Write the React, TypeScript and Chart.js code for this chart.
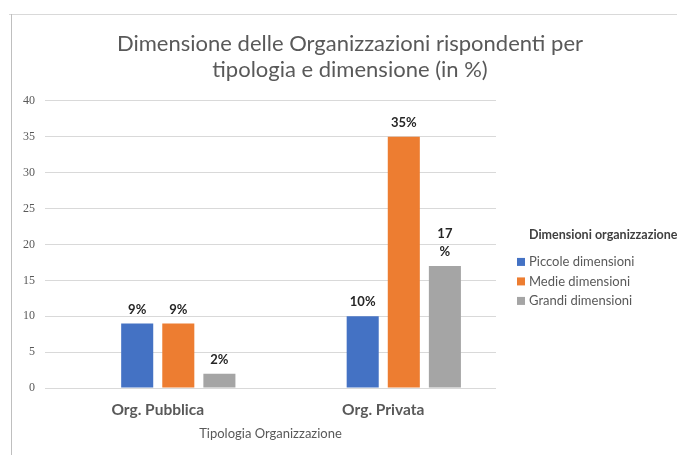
import React, { useEffect, useRef } from "react";
import { Chart, registerables } from "chart.js";

Chart.register(...registerables);

const categories = ["Org. Pubblica", "Org. Privata"];
const seriesNames = ["Piccole dimensioni", "Medie dimensioni", "Grandi dimensioni"];
const piccole = [9, 10];
const medie = [9, 35];
const grandi = [2, 17];
const emptySeries = [null, null];
const seriesColors = ["#4472C4", "#ED7D31", "#A5A5A5"];
// Excel wrapped some data labels onto two lines
const piccoleWrap = [false, false];
const medieWrap = [false, false];
const grandiWrap = [false, true];
const titleLines = ["Dimensione delle Organizzazioni rispondenti per", "tipologia e dimensione (in %)"];
const xAxisTitle = "Tipologia Organizzazione";
const legendTitle = "Dimensioni organizzazione";
const yMin = 0;
const yMax = 40;
const yStep = 5;

const FONT = "Lato, 'Open Sans', sans-serif";

const framePlugin = {
  id: "frame",
  beforeDraw(chart: any) {
    const ctx = chart.ctx;
    ctx.save();
    ctx.lineWidth = 1;
    ctx.strokeStyle = "#d9d9d9";
    ctx.beginPath();
    ctx.moveTo(9, 14.5);
    ctx.lineTo(chart.width, 14.5);
    ctx.stroke();
    ctx.strokeStyle = "#bfbfbf";
    ctx.beginPath();
    ctx.moveTo(11.5, 14);
    ctx.lineTo(11.5, chart.height);
    ctx.stroke();
    ctx.restore();
  },
};

const dataLabelPlugin = {
  id: "dataLabels",
  afterDatasetsDraw(chart: any) {
    const ctx = chart.ctx;
    ctx.save();
    ctx.font = `bold 13px ${FONT}`;
    ctx.fillStyle = "#262626";
    ctx.textAlign = "center";
    ctx.textBaseline = "middle";
    chart.data.datasets.forEach((ds: any, di: number) => {
      if (!ds.label) return;
      const meta = chart.getDatasetMeta(di);
      meta.data.forEach((bar: any, i: number) => {
        const v = ds.data[i];
        if (v == null) return;
        const wrap = ds.wrap && ds.wrap[i];
        const lines = wrap ? [String(v), "%"] : [`${v}%`];
        const lh = 18;
        lines.forEach((ln: string, li: number) => {
          const y = bar.y - 14 - (lines.length - 1 - li) * lh;
          ctx.fillText(ln, bar.x, y);
        });
      });
    });
    ctx.restore();
  },
};

const legendPlugin = {
  id: "customLegend",
  afterDraw(chart: any) {
    const ctx = chart.ctx;
    const area = chart.chartArea;
    const x0 = area.right + 21;
    ctx.save();
    ctx.textBaseline = "middle";
    ctx.textAlign = "left";
    ctx.font = `bold 12.5px ${FONT}`;
    ctx.fillStyle = "#404040";
    ctx.fillText(legendTitle, x0 + 12, area.top + 134);
    ctx.font = `13px ${FONT}`;
    let k = 0;
    chart.data.datasets.forEach((ds: any) => {
      if (!ds.label) return;
      const y = area.top + 161 + k * 19.5;
      ctx.fillStyle = ds.backgroundColor;
      ctx.fillRect(x0, y - 4, 8, 8);
      ctx.fillStyle = "#595959";
      ctx.fillText(ds.label, x0 + 12, y);
      k++;
    });
    ctx.restore();
  },
};

export default function App() {
  const ref = useRef<HTMLCanvasElement | null>(null);
  useEffect(() => {
    if (!ref.current) return;
    const chart = new Chart(ref.current, {
      type: "bar",
      data: {
        labels: categories,
        datasets: [
          { label: "", data: emptySeries as any, backgroundColor: "rgba(0,0,0,0)" },
          { label: seriesNames[0], data: piccole, backgroundColor: seriesColors[0], wrap: piccoleWrap } as any,
          { label: seriesNames[1], data: medie, backgroundColor: seriesColors[1], wrap: medieWrap } as any,
          { label: seriesNames[2], data: grandi, backgroundColor: seriesColors[2], wrap: grandiWrap } as any,
        ],
      },
      options: {
        responsive: false,
        animation: false,
        events: [],
        layout: { padding: { left: 23, right: 0, top: 0, bottom: 0 } },
        datasets: { bar: { categoryPercentage: 0.729, barPercentage: 0.78 } },
        plugins: {
          legend: { display: false },
          tooltip: { enabled: false },
          title: {
            display: true,
            text: titleLines,
            color: "#595959",
            font: { family: FONT, size: 22, weight: "normal", lineHeight: 1.18 },
            padding: { top: 31, bottom: 18 },
          },
        },
        scales: {
          x: {
            grid: { display: false },
            border: { display: false },
            ticks: {
              color: "#595959",
              font: { family: FONT, size: 15.5, weight: "bold" },
              padding: 5,
            },
            title: {
              display: true,
              text: xAxisTitle,
              color: "#595959",
              font: { family: FONT, size: 13 },
              padding: { top: 4, bottom: 13 },
            },
            afterFit: (s: any) => {
              s.height = 67;
            },
          },
          y: {
            position: "left",
            min: yMin,
            max: yMax,
            ticks: {
              stepSize: yStep,
              color: "#595959",
              font: { family: "'Liberation Serif', serif", size: 12 },
              padding: 10,
            },
            grid: { color: "#d9d9d9", drawTicks: false },
            border: { display: false },
            afterFit: (s: any) => {
              s.width = 22;
            },
          },
          legendSpace: {
            type: "linear",
            position: "right",
            display: true,
            ticks: { display: false },
            grid: { display: false },
            border: { display: false },
            afterFit: (s: any) => {
              s.width = 181;
            },
          },
        },
      } as any,
      plugins: [framePlugin, dataLabelPlugin, legendPlugin],
    });
    return () => chart.destroy();
  }, []);
  return (
    <div style={{ position: "fixed", left: 0, top: 0, width: 677, height: 455, background: "#fff" }}>
      <canvas ref={ref} width={677} height={455} />
    </div>
  );
}
